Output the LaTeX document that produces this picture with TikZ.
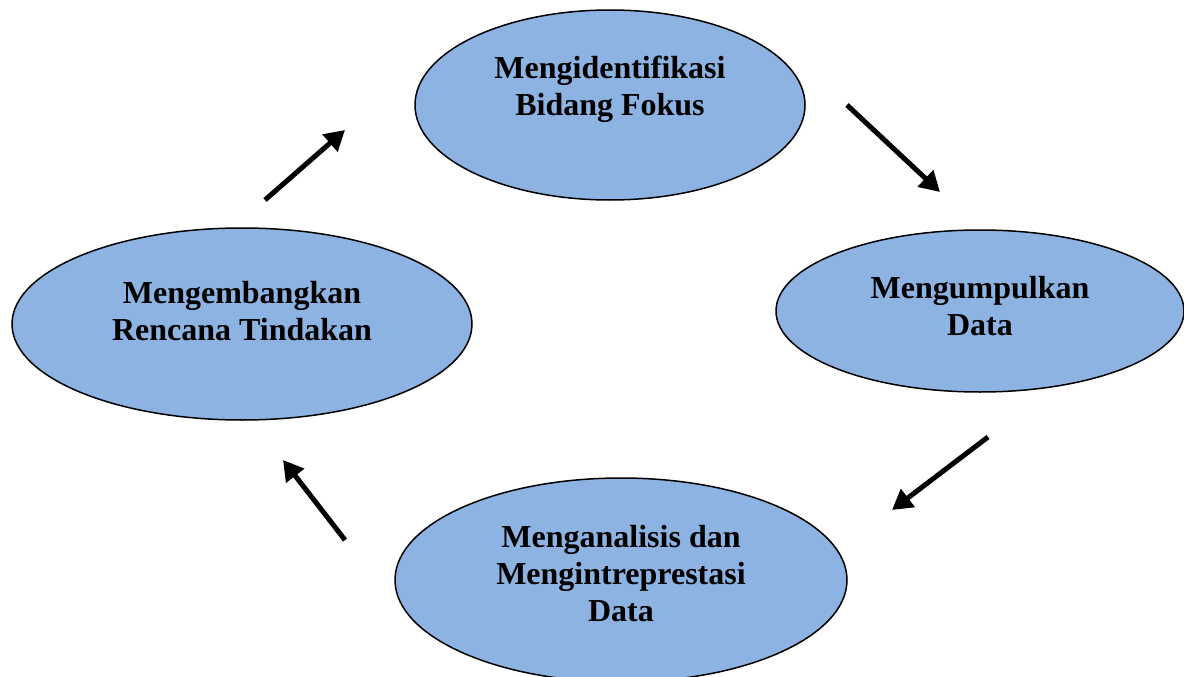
\documentclass[tikz,border=0pt]{standalone}
\usepackage{fontspec}
\setmainfont[Ligatures=NoCommon]{Liberation Serif}
\usetikzlibrary{shapes.geometric,arrows.meta}
\definecolor{ellfill}{RGB}{141,179,226}
\tikzset{
  ell/.style={ellipse, draw=black, line width=1.5pt, fill=ellfill, inner sep=0pt},
  lbl/.style={align=center, font=\fontsize{32}{37}\selectfont\bfseries, inner sep=0pt},
  arr/.style={line width=5pt, -{Triangle[length=20pt,width=22pt]}}
}
\begin{document}
\begin{tikzpicture}[x=1pt,y=-1pt]
\useasboundingbox (0,0) rectangle (1184,677);
\node[ell, minimum width=390pt, minimum height=190pt] (e1) at (610,105) {};
\node[ell, minimum width=408pt, minimum height=162pt] (e2) at (980,311) {};
\node[ell, minimum width=452pt, minimum height=204pt] (e3) at (621,580) {};
\node[ell, minimum width=460pt, minimum height=192pt] (e4) at (242,324) {};
\node[lbl] (t1) at (610,89) {Mengidentifikasi\\Bidang Fokus};
\node[lbl] (t2) at (980,306) {Mengumpulkan\\Data};
\node[lbl] (t4) at (242,311) {Mengembangkan\\Rencana Tindakan};
\node[lbl] (t3) at (621,574) {Menganalisis dan\\Mengintreprestasi\\Data};
\coordinate (a1s) at (265,200); \coordinate (a1e) at (345,130);
\coordinate (a2s) at (847,105); \coordinate (a2e) at (940,192);
\coordinate (a3s) at (988,437); \coordinate (a3e) at (892,510);
\coordinate (a4s) at (345,540); \coordinate (a4e) at (283,460);
\draw[arr] (a1s) -- (a1e);
\draw[arr] (a2s) -- (a2e);
\draw[arr] (a3s) -- (a3e);
\draw[arr] (a4s) -- (a4e);
\end{tikzpicture}
\end{document}
